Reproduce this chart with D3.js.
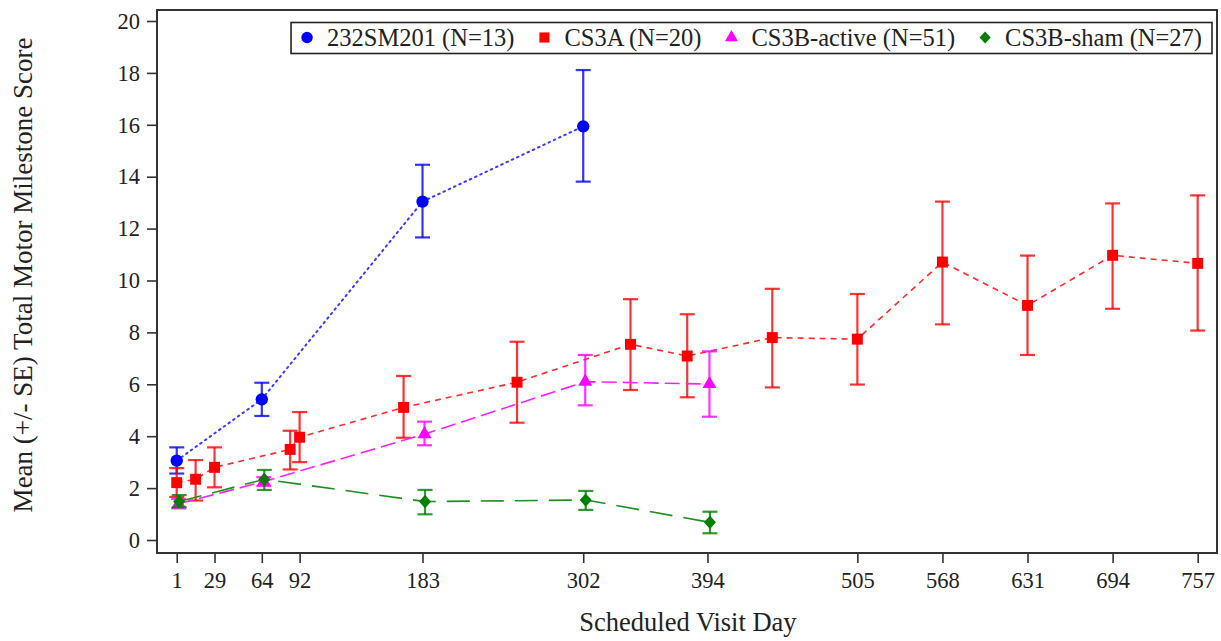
<!DOCTYPE html>
<html>
<head>
<meta charset="utf-8">
<script src="https://cdn.jsdelivr.net/npm/d3@7"></script>
<style>
  body { margin: 0; background: #fff; }
</style>
</head>
<body>
<div id="chart"></div>
<script>
// x tick labels (scheduled visit days)
const xTickDays = [1, 29, 64, 92, 183, 302, 394, 505, 568, 631, 694, 757];
const yTickValues = [0, 2, 4, 6, 8, 10, 12, 14, 16, 18, 20];

// 232SM201
const sm201Days = [1, 64, 183, 302];
const sm201Mean = [3.06, 5.42, 13.04, 15.94];
const sm201Low = [2.56, 4.78, 11.66, 13.81];
const sm201High = [3.57, 6.06, 14.46, 18.11];

// CS3A
const cs3aDays = [1, 15, 29, 85, 92, 169, 253, 337, 379, 442, 505, 568, 631, 694, 757];
const cs3aMean = [2.21, 2.34, 2.80, 3.49, 3.96, 5.11, 6.08, 7.54, 7.09, 7.80, 7.74, 10.71, 9.04, 10.97, 10.66];
const cs3aLow = [1.66, 1.52, 2.03, 2.72, 3.00, 3.94, 4.52, 5.78, 5.50, 5.88, 5.99, 8.31, 7.13, 8.91, 8.07];
const cs3aHigh = [2.77, 3.08, 3.57, 4.21, 4.93, 6.32, 7.64, 9.28, 8.70, 9.68, 9.48, 13.04, 10.96, 12.97, 13.28];

// CS3B-active
const activeDays = [1, 64, 183, 302, 394];
const activeMean = [1.40, 2.25, 4.08, 6.10, 6.01];
const activeLow = [1.22, 2.08, 3.65, 5.19, 4.75];
const activeHigh = [1.58, 2.42, 4.56, 7.13, 7.27];

// CS3B-sham
const shamDays = [1, 64, 183, 302, 394];
const shamMean = [1.48, 2.34, 1.48, 1.54, 0.68];
const shamLow = [1.26, 1.93, 0.99, 1.16, 0.26];
const shamHigh = [1.73, 2.70, 1.93, 1.89, 1.09];

const seriesNames = ['232SM201 (N=13)', 'CS3A (N=20)', 'CS3B-active (N=51)', 'CS3B-sham (N=27)'];

const FONT = "'Liberation Serif', 'Times New Roman', Times, 'DejaVu Serif', serif";

function zipSeries(days, mean, low, high) {
  return days.map((d, i) => ({ x: d, y: mean[i], lo: low[i], hi: high[i] }));
}

// diamond as a rotated square, slightly stretched
function diamondPath(size) {
  const r = Math.sqrt(size) / 2 * 1.35;
  return `M0,${-r * 1.1}L${r},0L0,${r * 1.1}L${-r},0Z`;
}

const series = [
  { name: seriesNames[0], data: zipSeries(sm201Days, sm201Mean, sm201Low, sm201High),
    color: '#0000ff', lineColor: '#3a3aff', dash: '1.6,4.2', cap: 'round', symbol: d3.symbolCircle, size: 120, dx: 0 },
  { name: seriesNames[1], data: zipSeries(cs3aDays, cs3aMean, cs3aLow, cs3aHigh),
    color: '#ff0000', lineColor: '#ff2a2a', dash: '6,5', cap: 'butt', symbol: d3.symbolSquare, size: 120, dx: 0 },
  { name: seriesNames[2], data: zipSeries(activeDays, activeMean, activeLow, activeHigh),
    color: '#ff00ff', lineColor: '#ff20ff', dash: '15,6', cap: 'butt', symbol: d3.symbolTriangle, size: 85, dx: 2 },
  { name: seriesNames[3], data: zipSeries(shamDays, shamMean, shamLow, shamHigh),
    color: '#007f00', lineColor: '#1e8f1e', dash: '23,11', cap: 'butt', symbol: null, size: 80, dx: 2.5 }
];

function markerPath(s, scale) {
  if (!s.symbol) return diamondPath(s.size * scale);
  return d3.symbol().type(s.symbol).size(s.size * scale)();
}

const width = 1221;
const height = 641;
const plot = { left: 157, right: 1217, top: 10, bottom: 553 };

const svg = d3.select('#chart')
  .append('svg')
  .attr('width', width)
  .attr('height', height)
  .style('font-family', FONT);

const xScale = d3.scaleLinear()
  .domain([-13.6, 771.3])
  .range([plot.left, plot.right]);

const yScale = d3.scaleLinear()
  .domain([0, 20])
  .range([540, 21]);

// axes
const yAxisGroup = svg.append('g')
  .attr('transform', `translate(${plot.left},0)`)
  .call(d3.axisLeft(yScale).tickValues(yTickValues).tickSize(10).tickPadding(7));
yAxisGroup.attr('font-family', null);
yAxisGroup.select('.domain').remove();
yAxisGroup.selectAll('line').attr('stroke', '#333').attr('stroke-width', 1.6);
yAxisGroup.selectAll('text').attr('font-size', 22.5).attr('fill', '#222').style('font-family', FONT);

const xAxisGroup = svg.append('g')
  .attr('transform', `translate(0,${plot.bottom})`)
  .call(d3.axisBottom(xScale).tickValues(xTickDays).tickSize(10).tickPadding(9));
xAxisGroup.attr('font-family', null);
xAxisGroup.select('.domain').remove();
xAxisGroup.selectAll('line').attr('stroke', '#333').attr('stroke-width', 1.6);
xAxisGroup.selectAll('text').attr('font-size', 22.5).attr('fill', '#222').style('font-family', FONT);

// frame
svg.append('rect')
  .attr('x', plot.left)
  .attr('y', plot.top)
  .attr('width', plot.right - plot.left)
  .attr('height', plot.bottom - plot.top)
  .attr('fill', 'none')
  .attr('stroke', '#333')
  .attr('stroke-width', 2);

// axis titles
svg.append('text')
  .attr('x', (plot.left + plot.right) / 2 + 1)
  .attr('y', 631)
  .attr('text-anchor', 'middle')
  .attr('font-size', 26.5)
  .attr('fill', '#222')
  .style('font-family', FONT)
  .text('Scheduled Visit Day');

svg.append('text')
  .attr('transform', 'rotate(-90)')
  .attr('x', -275)
  .attr('y', 32)
  .attr('text-anchor', 'middle')
  .attr('font-size', 27)
  .attr('fill', '#222')
  .style('font-family', FONT)
  .text('Mean (+/- SE) Total Motor Milestone Score');

// series
series.forEach(s => {
  const g = svg.append('g');
  const px = d => xScale(d.x) + s.dx;

  const lineFunc = d3.line()
    .x(px)
    .y(d => yScale(d.y));

  g.append('path')
    .attr('d', lineFunc(s.data))
    .attr('fill', 'none')
    .attr('stroke', s.lineColor)
    .attr('stroke-width', s.cap === 'round' ? 2 : 1.6)
    .attr('stroke-linecap', s.cap)
    .attr('stroke-dasharray', s.dash);

  // error bars
  const bars = g.selectAll('.bar').data(s.data).enter().append('g');
  bars.append('line')
    .attr('x1', px).attr('x2', px)
    .attr('y1', d => yScale(d.lo)).attr('y2', d => yScale(d.hi));
  bars.append('line')
    .attr('x1', d => px(d) - 7.5).attr('x2', d => px(d) + 7.5)
    .attr('y1', d => yScale(d.hi)).attr('y2', d => yScale(d.hi));
  bars.append('line')
    .attr('x1', d => px(d) - 7.5).attr('x2', d => px(d) + 7.5)
    .attr('y1', d => yScale(d.lo)).attr('y2', d => yScale(d.lo));
  bars.selectAll('line')
    .attr('stroke', s.color)
    .attr('stroke-opacity', 0.8)
    .attr('stroke-width', 2.2);

  // markers
  g.selectAll('.mark').data(s.data).enter().append('path')
    .attr('transform', d => `translate(${px(d)},${yScale(d.y)})`)
    .attr('d', markerPath(s, 1))
    .attr('fill', s.color);
});

// legend: item origin is the marker centre
const legend = svg.append('g');
const items = legend.selectAll('g').data(series).enter().append('g');
items.append('text')
  .attr('font-size', 24.5)
  .attr('x', 20)
  .attr('y', 8)
  .attr('fill', '#222')
  .style('font-family', FONT)
  .text(d => d.name);
items.append('path')
  .attr('d', d => markerPath(d, 0.85))
  .attr('fill', d => d.color);

let cursor = 0;
const itemX = [];
items.each(function () {
  const w = d3.select(this).select('text').node().getComputedTextLength();
  itemX.push(cursor);
  cursor += 20 + w + 30;
});
items.attr('transform', (d, i) => `translate(${itemX[i]},0)`);

const padLeft = 16;
const padRight = 10;
const legendWidth = padLeft + cursor - 30 + padRight;
const legendRight = 1212;
const legendLeft = legendRight - legendWidth;
legend.insert('rect', ':first-child')
  .attr('x', -padLeft)
  .attr('y', -15)
  .attr('width', legendWidth)
  .attr('height', 31)
  .attr('fill', '#fff')
  .attr('stroke', '#222')
  .attr('stroke-width', 1.6);
legend.attr('transform', `translate(${legendLeft + padLeft},${37.5})`);
</script>
</body>
</html>
